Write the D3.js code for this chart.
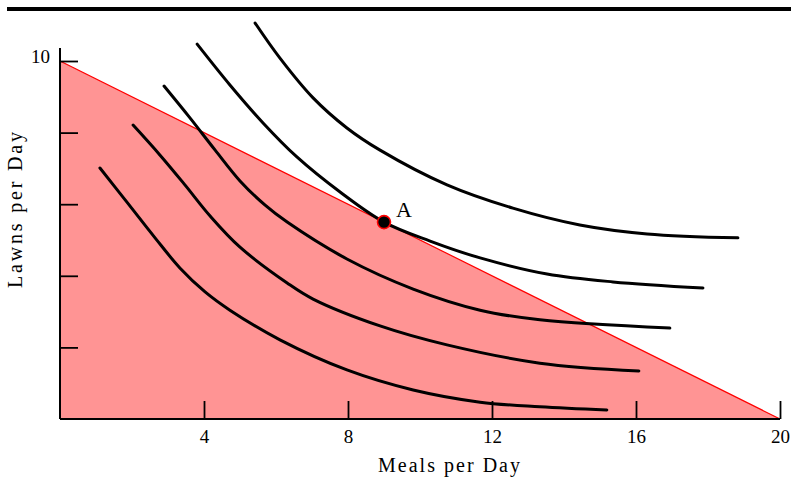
<!DOCTYPE html>
<html>
<head>
<meta charset="utf-8">
<script src="https://cdn.jsdelivr.net/npm/d3@7"></script>
<style>
  html, body { margin: 0; padding: 0; background: #fff; }
  svg { display: block; }
</style>
</head>
<body>
<svg id="chart" width="791" height="481"></svg>
<script>
// Axis ticks
const mealsTicks = [4, 8, 12, 16, 20];
const lawnsTicks = [2, 4, 6, 8, 10];
const lawnsTickLabels = ["", "", "", "", "10"];

// Budget constraint: intercepts on each axis
const budgetLine = [[0, 10], [20, 0]];

// Chosen bundle on the budget line
const pointA = { meals: 9, lawns: 5.5, label: "A" };

// Indifference curves, lowest to highest utility: [meals, lawns]
const curve1 = [[1.11, 7.01], [1.81, 6.12], [2.64, 5.06], [3.33, 4.22], [4.03, 3.55], [4.72, 3.04],
                [6.11, 2.21], [7.97, 1.37], [9.81, 0.81], [11.67, 0.47], [13.33, 0.34], [15.19, 0.25]];
const curve2 = [[2.03, 8.21], [2.78, 7.37], [3.47, 6.54], [4.17, 5.67], [5.00, 4.80], [6.31, 3.80],
                [7.03, 3.35], [8.89, 2.60], [10.75, 2.07], [13.33, 1.56], [16.08, 1.34]];
const curve3 = [[2.89, 9.30], [3.61, 8.41], [4.31, 7.51], [5.00, 6.65], [5.69, 5.98], [6.31, 5.50],
                [7.97, 4.47], [9.81, 3.63], [11.67, 3.04], [13.33, 2.77], [16.94, 2.54]];
const curve4 = [[3.81, 10.47], [4.72, 9.33], [5.64, 8.27], [6.58, 7.32], [7.78, 6.34], [9.00, 5.50],
                [10.28, 4.97], [11.67, 4.50], [13.53, 4.05], [15.36, 3.83], [17.86, 3.66]];
const curve5 = [[5.42, 11.06], [6.11, 10.08], [7.03, 8.97], [7.97, 8.13], [8.89, 7.51], [10.75, 6.54],
                [12.58, 5.89], [14.44, 5.42], [16.31, 5.17], [18.83, 5.06]];
const indifferenceCurves = [curve1, curve2, curve3, curve4, curve5];

const svg = d3.select("#chart");
const font = "'Liberation Serif', 'DejaVu Serif', serif";

const x = d3.scaleLinear().domain([0, 20]).range([60, 780]);
const y = d3.scaleLinear().domain([0, 10]).range([419, 61]);

// Rule across the top
svg.append("rect").attr("x", 7).attr("y", 7).attr("width", 784).attr("height", 4).attr("fill", "#000");

// Feasible set under the budget line
const region = [[0, 0], ...budgetLine];
svg.append("path")
  .attr("d", d3.line().x(d => x(d[0])).y(d => y(d[1]))(region) + "Z")
  .attr("fill", "#ff9494");
svg.append("path")
  .attr("d", d3.line().x(d => x(d[0])).y(d => y(d[1]))(budgetLine))
  .attr("fill", "none").attr("stroke", "#ff0000").attr("stroke-width", 1.2);

// Indifference curves
const curveLine = d3.line().x(d => x(d[0])).y(d => y(d[1])).curve(d3.curveCatmullRom.alpha(0.5));
svg.append("g").selectAll("path").data(indifferenceCurves).join("path")
  .attr("d", curveLine)
  .attr("fill", "none").attr("stroke", "#000").attr("stroke-width", 3)
  .attr("stroke-linecap", "round").attr("stroke-linejoin", "round");

// Axes
const xAxis = d3.axisBottom(x).tickValues(mealsTicks).tickSizeInner(-18).tickSizeOuter(0).tickPadding(11);
const gx = svg.append("g").attr("transform", `translate(0,${y(0)})`).call(xAxis);
gx.select(".domain").remove();
gx.selectAll(".tick line").attr("stroke", "#000").attr("stroke-width", 1.8);
gx.selectAll(".tick text").attr("font-family", font).attr("font-size", 19).attr("fill", "#000");

const yAxis = d3.axisLeft(y).tickValues(lawnsTicks).tickFormat((d, i) => lawnsTickLabels[i])
  .tickSizeInner(-18).tickSizeOuter(0).tickPadding(10);
const gy = svg.append("g").attr("transform", `translate(${x(0)},0)`).call(yAxis);
gy.select(".domain").remove();
gy.selectAll(".tick line").attr("stroke", "#000").attr("stroke-width", 1.8);
gy.selectAll(".tick text").attr("font-family", font).attr("font-size", 19).attr("fill", "#000")
  .attr("dy", "0.1em");

// Axis lines
svg.append("line").attr("x1", x(0)).attr("x2", x(20)).attr("y1", y(0)).attr("y2", y(0))
  .attr("stroke", "#000").attr("stroke-width", 2);
svg.append("line").attr("x1", x(0)).attr("x2", x(0)).attr("y1", y(0)).attr("y2", y(10) - 13)
  .attr("stroke", "#000").attr("stroke-width", 2);

// Point A
svg.append("circle").attr("cx", x(pointA.meals)).attr("cy", y(pointA.lawns)).attr("r", 6.5)
  .attr("fill", "#000").attr("stroke", "#ff0000").attr("stroke-width", 1.6);
svg.append("text").attr("x", x(pointA.meals) + 12).attr("y", y(pointA.lawns) - 5)
  .attr("font-family", font).attr("font-size", 22).attr("fill", "#000").text(pointA.label);

// Axis titles
svg.append("text").attr("x", 449).attr("y", 472).attr("text-anchor", "middle")
  .attr("font-family", font).attr("font-size", 20).attr("fill", "#000")
  .attr("textLength", 142).attr("lengthAdjust", "spacing").text("Meals per Day");
svg.append("text").attr("transform", "translate(22,210) rotate(-90)").attr("text-anchor", "middle")
  .attr("font-family", font).attr("font-size", 20).attr("fill", "#000")
  .attr("textLength", 156).attr("lengthAdjust", "spacing").text("Lawns per Day");
</script>
</body>
</html>
